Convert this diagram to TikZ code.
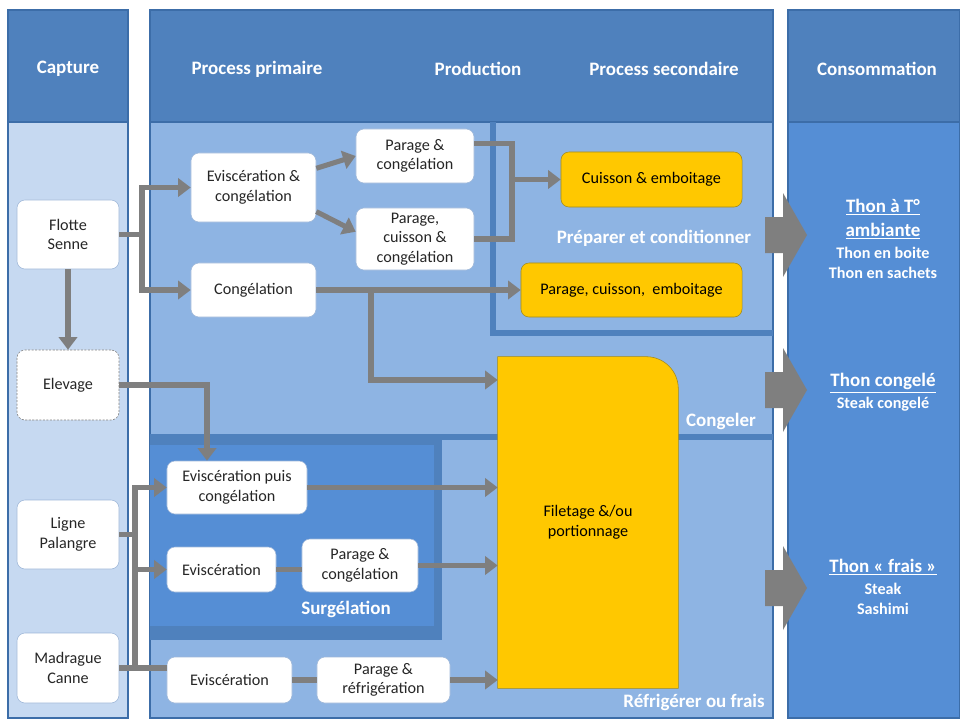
\documentclass[tikz,border=0pt]{standalone}
\usepackage{fontspec}
\setmainfont{Carlito}
\usetikzlibrary{arrows.meta}
\definecolor{headBlue}{HTML}{4F81BD}
\definecolor{edgeBlue}{HTML}{3C6DA8}
\definecolor{mainBlue}{HTML}{8EB4E3}
\definecolor{paleBlue}{HTML}{C6D9F1}
\definecolor{deepBlue}{HTML}{558ED5}
\definecolor{flowGray}{HTML}{7F7F7F}
\definecolor{boxYellow}{HTML}{FFC800}
\definecolor{yellowEdge}{HTML}{A08A20}
\definecolor{boxEdge}{HTML}{9DB6D8}
\definecolor{textDark}{HTML}{262626}

\begin{document}
\begin{tikzpicture}[x=0.025cm, y=-0.025cm,
    wbox/.style={draw=boxEdge, fill=white, rounded corners=0.2cm, align=center, text=textDark, font=\fontsize{11.5}{14}\selectfont, inner sep=2pt},
    ybox/.style={wbox, draw=yellowEdge, fill=boxYellow, text=black},
    flow/.style={draw=flowGray, line width=3.6pt},
    flowarr/.style={flow, -{Triangle[length=9pt, width=13pt]}},
    hdr/.style={text=white, font=\fontsize{13.5}{16}\selectfont\bfseries},
    titletxt/.style={text=white, align=center, font=\fontsize{13.5}{17}\selectfont\bfseries},
    subtxt/.style={text=white, align=center, font=\fontsize{11.5}{14}\selectfont\bfseries}]
    \useasboundingbox (0,0) rectangle (960,718);

    % Columns
    \foreach \xa/\xb/\col in {8/128/paleBlue, 150/773/mainBlue, 788/960/deepBlue} {
        \fill[\col] (\xa,10) rectangle (\xb,718);
        \fill[headBlue] (\xa,10) rectangle (\xb,122);
        \draw[edgeBlue, line width=1pt] (\xa,10) rectangle (\xb,718);
        \draw[edgeBlue, line width=1pt] (\xa,122) -- (\xb,122);
    }

    % Zones
    \draw[headBlue, line width=4.5pt] (493,122) -- (493,333) -- (773,333);
    \draw[headBlue, line width=4.5pt] (150,437) -- (773,437);
    \fill[headBlue] (150,437) rectangle (442,640);
    \fill[deepBlue] (150,445) rectangle (434,626);

    % Headers
    \node[hdr] (capture) at (68,69) {Capture};
    \node[hdr] (primaire) at (257,69) {Process primaire};
    \node[hdr] (production) at (478,69) {Production};
    \node[hdr] (secondaire) at (664,69) {Process secondaire};
    \node[hdr] (consommation) at (877,69) {Consommation};

    \node[hdr] (preparer) at (654,238) {Préparer et conditionner};
    \node[hdr] (congeler) at (721,421) {Congeler};
    \node[hdr] (surgelation) at (346,609) {Surgélation};
    \node[hdr] (refrigerer) at (694,702) {Réfrigérer ou frais};

    % Capture
    \node[wbox, minimum width=2.55cm, minimum height=1.725cm] (flotte) at (68,234.5) {Flotte\\Senne};
    \node[wbox, draw=gray, dash pattern=on 1.5pt off 1pt, minimum width=2.55cm, minimum height=1.75cm] (elevage) at (68,385) {Elevage};
    \node[wbox, minimum width=2.55cm, minimum height=1.725cm] (ligne) at (68,534.5) {Ligne\\Palangre};
    \node[wbox, minimum width=2.55cm, minimum height=1.75cm] (madrague) at (68,668) {Madrague\\Canne};

    % Process primaire
    \node[wbox, minimum width=3.125cm, minimum height=1.725cm] (evcong) at (253.5,187.5) {Eviscération \&\\congélation};
    \node[wbox, minimum width=3.125cm, minimum height=1.35cm] (cong) at (253.5,290) {Congélation};
    \node[wbox, minimum width=2.95cm, minimum height=1.35cm] (parcong) at (415,156) {Parage \&\\congélation};
    \node[wbox, minimum width=2.95cm, minimum height=1.55cm] (parcuicong) at (415,239) {Parage,\\cuisson \&\\congélation};
    \node[wbox, minimum width=3.5cm, minimum height=1.325cm] (evpuis) at (237,487.5) {Eviscération puis\\congélation};
    \node[wbox, minimum width=2.725cm, minimum height=1.125cm] (evsurg) at (221.5,569.5) {Eviscération};
    \node[wbox, minimum width=2.9cm, minimum height=1.325cm] (parsurg) at (360,565.5) {Parage \&\\congélation};
    \node[wbox, minimum width=3.125cm, minimum height=1.15cm] (evbas) at (229.5,680) {Eviscération};
    \node[wbox, minimum width=3.325cm, minimum height=1.15cm] (parref) at (383.5,680) {Parage \&\\réfrigération};

    % Process secondaire
    \node[ybox, minimum width=4.525cm, minimum height=1.375cm] (cuisson) at (651.5,179.5) {Cuisson \& emboitage};
    \node[ybox, minimum width=5.525cm, minimum height=1.35cm] (parcuiemb) at (631.5,290) {Parage, cuisson,~ emboitage};
    \node[minimum width=4.5cm, minimum height=8.275cm, inner sep=0pt] (filetage) at (588,522.5) {};
    \filldraw[fill=boxYellow, draw=yellowEdge, line width=0.4pt] (filetage.south west) -- (filetage.north west)
        -- ([xshift=-0.8cm]filetage.north east) arc[start angle=90, end angle=0, radius=0.8cm] -- (filetage.south east) -- cycle;
    \node[align=center, font=\fontsize{11.5}{14}\selectfont] (filetagetxt) at (filetage.center) {Filetage \&/ou\\portionnage};

    % Connectors
    \coordinate (jflotte) at (142,234.5);
    \coordinate (jparage) at (512,179.5);
    \coordinate (jcong) at (371,290);
    \coordinate (jligne) at (135,534.5);

    \draw[flow] (flotte.east) -- (jflotte);
    \draw[flowarr] (jflotte) |- (evcong.west);
    \draw[flowarr] (jflotte) |- (cong.west);
    \draw[flowarr] (flotte.south) -- (elevage.north);
    \draw[flowarr] (evcong.17) -- (parcong.west);
    \draw[flowarr] (evcong.-21) -- (parcuicong.173);
    \draw[flow] (parcong.12) -| (jparage) |- (parcuicong.east);
    \draw[flowarr] (jparage) -- (jparage -| cuisson.west);
    \draw[flowarr] (cong.east) -- (parcuiemb.west);
    \draw[flowarr] (jcong) |- (filetage.west |- 0,380);
    \draw[flowarr] (elevage.east) -| (evpuis.north -| 207,0);

    \draw[flow] (ligne.east) -- (jligne);
    \draw[flowarr] (jligne) |- (evpuis.west);
    \draw[flowarr] (jligne) |- (evsurg.west);
    \draw[flow] (jligne) |- (madrague.east -| evbas.west);
    \draw[flow] (madrague.east) -- (jligne |- madrague.east);

    \draw[flowarr] (evpuis.east) -- (evpuis.east -| filetage.west);
    \draw[flow] (evsurg.east) -- (evsurg.east -| parsurg.west);
    \draw[flowarr] (parsurg.east) -- (parsurg.east -| filetage.west);
    \draw[flow] (evbas.east) -- (parref.west);
    \draw[flowarr] (parref.east) -- (parref.east -| filetage.west);

    % Big arrows
    \foreach \ya in {235,390,588}
        \fill[flowGray] (765,\ya-18) -- (783,\ya-18) -- (783,\ya-42) -- (807,\ya)
            -- (783,\ya+42) -- (783,\ya+18) -- (765,\ya+18) -- cycle;

    % Consommation
    \node[titletxt] (ambiante) at (883,219) {\underline{Thon à T°}\\\underline{ambiante}};
    \node[subtxt] (boite) at (883,263) {Thon en boite\\Thon en sachets};
    \node[titletxt] (congele) at (883,383) {\underline{Thon congelé}};
    \node[subtxt] (steak) at (883,404) {Steak congelé};
    \node[titletxt] (frais) at (883,567) {\underline{Thon « frais »}};
    \node[subtxt] (sashimi) at (883,599) {Steak\\Sashimi};
\end{tikzpicture}
\end{document}
